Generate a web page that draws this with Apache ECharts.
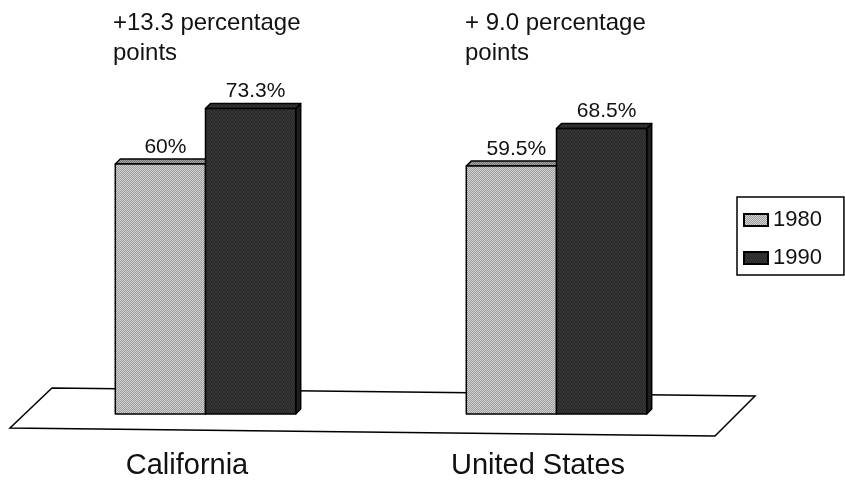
<!DOCTYPE html>
<html>
<head>
<meta charset="utf-8">
<script src="https://cdn.jsdelivr.net/npm/echarts@6/dist/echarts.min.js"></script>
<style>
  html, body { margin: 0; padding: 0; background: #fff; }
  #chart { width: 845px; height: 482px; }
</style>
</head>
<body>
<div id="chart"></div>
<script>
// Share of the population (percent), 1980 vs 1990
const categories = ['California', 'United States'];
const years = ['1980', '1990'];
const values1980 = [60, 59.5];
const values1990 = [73.3, 68.5];
const gainNotes = ['+13.3 percentage\npoints', '+ 9.0 percentage\npoints'];

const FONT = '"Liberation Sans", Arial, Helvetica, sans-serif';

// small repeating fill textures for the two bar shades
function makePattern(cells, size) {
  const c = document.createElement('canvas');
  c.width = c.height = size;
  const ctx = c.getContext('2d');
  for (let y = 0; y < size; y++) {
    for (let x = 0; x < size; x++) {
      ctx.fillStyle = cells[(y * size + x) % cells.length];
      ctx.fillRect(x, y, 1, 1);
    }
  }
  return { image: c, repeat: 'repeat' };
}
const lightFill = makePattern(['#d2d2d2', '#9c9c9c', '#9c9c9c', '#d2d2d2'], 2);
const lightTop = makePattern(['#a8a8a8', '#727272', '#727272', '#a8a8a8'], 2);
const darkFill = makePattern([
  '#2c2c2c', '#3a3a3a', '#262626', '#353535',
  '#383838', '#242424', '#333333', '#2a2a2a',
  '#2a2a2a', '#363636', '#3c3c3c', '#242424',
  '#343434', '#282828', '#2e2e2e', '#3a3a3a'
], 4);
const darkSide = '#1e1e1e';

const DEPTH = 5;

function renderBar(params, api) {
  const cat = api.value(0);
  const val = api.value(1);
  const top = api.coord([cat, val]);
  const base = api.coord([cat, 0]);
  const band = api.size([1, 0])[0];
  const w = band * 0.257;
  const first = params.seriesIndex === 0;
  const left = first ? top[0] - w : top[0];
  const y = top[1];
  const yb = base[1];
  const d = DEPTH;
  const front = first ? lightFill : darkFill;
  const topFill = first ? lightTop : darkFill;
  const sideFill = first ? lightTop : darkSide;
  const stroke = { stroke: '#000', lineWidth: 1.5, lineJoin: 'round' };
  return {
    type: 'group',
    children: [
      {
        type: 'polygon',
        shape: { points: [[left + w, y], [left + w + d, y - d], [left + w + d, yb - d], [left + w, yb]] },
        style: Object.assign({ fill: sideFill }, stroke)
      },
      {
        type: 'polygon',
        shape: { points: [[left, y], [left + d, y - d], [left + w + d, y - d], [left + w, y]] },
        style: Object.assign({ fill: topFill }, stroke)
      },
      {
        type: 'rect',
        shape: { x: left, y: y, width: w, height: yb - y },
        style: Object.assign({ fill: front }, stroke)
      },
      {
        type: 'text',
        style: {
          text: val + '%',
          x: left + w / 2 + 5,
          y: y - 17,
          align: 'center',
          verticalAlign: 'middle',
          font: '21px ' + FONT,
          fill: '#111'
        }
      }
    ]
  };
}

const chart = echarts.init(document.getElementById('chart'), null, { renderer: 'canvas' });

chart.setOption({
  backgroundColor: '#fff',
  animation: false,
  grid: { left: 30, right: 113, top: 39, bottom: 68 },
  legend: {
    orient: 'vertical',
    left: 737,
    top: 197,
    icon: 'rect',
    itemWidth: 24,
    itemHeight: 12,
    itemGap: 16,
    padding: [12, 22, 6, 6],
    borderColor: '#000',
    borderWidth: 1.5,
    data: years,
    textStyle: { fontFamily: FONT, fontSize: 22, color: '#111' }
  },
  xAxis: {
    type: 'category',
    data: categories,
    axisLine: { show: false },
    axisTick: { show: false },
    axisLabel: {
      margin: 37,
      fontFamily: FONT,
      fontSize: 29,
      color: '#111',
      padding: [0, 37, 0, 0]
    }
  },
  yAxis: { type: 'value', min: 0, max: 90, show: false },
  graphic: [
    {
      type: 'polygon',
      z: 0,
      shape: { points: [[52, 388], [755, 396], [715, 436], [10, 428]] },
      style: { fill: '#fff', stroke: '#000', lineWidth: 1.5 }
    },
    {
      type: 'text',
      left: 113,
      top: 8,
      style: { text: gainNotes[0], font: '24px ' + FONT, lineHeight: 30, fill: '#111' }
    },
    {
      type: 'text',
      left: 465,
      top: 8,
      style: { text: gainNotes[1], font: '24px ' + FONT, lineHeight: 30, fill: '#111' }
    }
  ],
  series: [
    {
      name: years[0],
      type: 'custom',
      z: 3,
      renderItem: renderBar,
      itemStyle: { color: lightFill, borderColor: '#000', borderWidth: 1.5 },
      data: categories.map((c, i) => [i, values1980[i]])
    },
    {
      name: years[1],
      type: 'custom',
      z: 4,
      renderItem: renderBar,
      itemStyle: { color: darkFill, borderColor: '#000', borderWidth: 1.5 },
      data: categories.map((c, i) => [i, values1990[i]])
    }
  ]
});
</script>
</body>
</html>
